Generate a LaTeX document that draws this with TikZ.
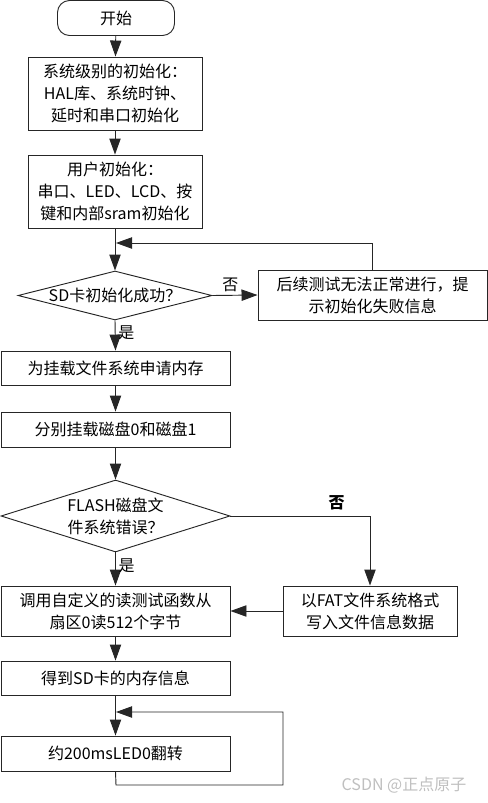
\documentclass[tikz,border=0pt]{standalone}
\usepackage{fontspec}
\setmainfont{Noto Sans CJK SC}
\usetikzlibrary{arrows.meta}
\usetikzlibrary{shapes.geometric}

\tikzset{
  box/.style={draw, rectangle, inner sep=0pt, align=center, font=\fontsize{12}{16.5}\selectfont},
  decision/.style={draw, diamond, inner sep=0pt},
  dtext/.style={align=center, inner sep=0pt, font=\fontsize{12}{16.5}\selectfont},
  lbl/.style={inner sep=2pt, font=\fontsize{12}{14}\selectfont},
  arr/.style={-{Triangle[length=12pt,width=8.5pt]}},
}

\begin{document}
\begin{tikzpicture}[x=0.75pt,y=0.75pt,yscale=-1,xscale=1,line width=0.7pt,draw=black!85]
\path[use as bounding box] (0,0) rectangle (488,803);

% Nodes
\node[box, rounded corners=9pt, minimum width=87.75pt, minimum height=26.25pt] (start) at (116,18) {开始};
\node[box, minimum width=130.5pt, minimum height=54.75pt] (sys) at (115,93.5) {系统级别的初始化：\\HAL库、系统时钟、\\延时和串口初始化};
\node[box, minimum width=130.5pt, minimum height=54.75pt] (user) at (115,191.5) {用户初始化：\\串口、LED、LCD、按\\键和内部sram初始化};
\node[decision, minimum width=145.5pt, minimum height=36.75pt] (sd) at (115,295.5) {};
\node[dtext] (sdt) at (sd) {SD卡初始化成功？};
\node[box, minimum width=171.75pt, minimum height=37.5pt] (fail) at (372.5,295) {后续测试无法正常进行，提\\示初始化失败信息};
\node[box, minimum width=171.75pt, minimum height=25.5pt] (mem) at (115.5,368) {为挂载文件系统申请内存};
\node[box, minimum width=171.75pt, minimum height=26.25pt] (mount) at (115.5,429.5) {分别挂载磁盘0和磁盘1};
\node[decision, minimum width=171.75pt, minimum height=54pt] (flash) at (115.5,516) {};
\node[dtext] (flasht) at (flash) {FLASH磁盘文\\件系统错误？};
\node[box, minimum width=171.75pt, minimum height=37.5pt] (read) at (115.5,611) {调用自定义的读测试函数从\\扇区0读512个字节};
\node[box, minimum width=130.5pt, minimum height=37.5pt] (fmt) at (370,611) {以FAT文件系统格式\\写入文件信息数据};
\node[box, minimum width=171.75pt, minimum height=25.5pt] (info) at (115.5,678) {得到SD卡的内存信息};
\node[box, minimum width=171.75pt, minimum height=26.25pt] (led) at (115.5,753.5) {约200msLED0翻转};

% loop corners
\coordinate (back1) at (116,243);
\coordinate (back2a) at (116,785);
\coordinate (back2b) at (283,712);
\coordinate (back2c) at (116,712);

% Connectors
\draw[arr] (start) -- (sys);
\draw[arr] (sys) -- (user);
\draw[arr] (user) -- (sd);
\draw[arr] (sd.east) -- node[lbl, above, pos=0.4] (no1) {否} (fail.west);
\draw[arr] (fail.north) |- (back1);
\draw[arr] (sd.south) -- node[lbl, right, pos=0.4] (yes1) {是} (mem.north);
\draw[arr] (mem) -- (mount);
\draw[arr] (mount) -- (flash);
\draw (flash.east) -- node[lbl, above, pos=0.76, yshift=2pt, font=\fontsize{12}{14}\selectfont\bfseries] (no2) {否} (fmt.north |- flash.east);
\draw[arr] (fmt.north |- flash.east) -- (fmt.north);
\draw[arr] (flash.south) -- node[lbl, right, pos=0.4] (yes2) {是} (read.north);
\draw[arr] (fmt.west) -- (read.east);
\draw[arr] (read) -- (info);
\draw[arr] (info) -- (led);
\draw[arr] (led.south) -- (back2a) -| (back2b) -- (back2c);

% watermark
\node[text=black!25, font=\fontsize{12}{14}\selectfont] (mark) at (404,785) {CSDN @正点原子};

\end{tikzpicture}
\end{document}
